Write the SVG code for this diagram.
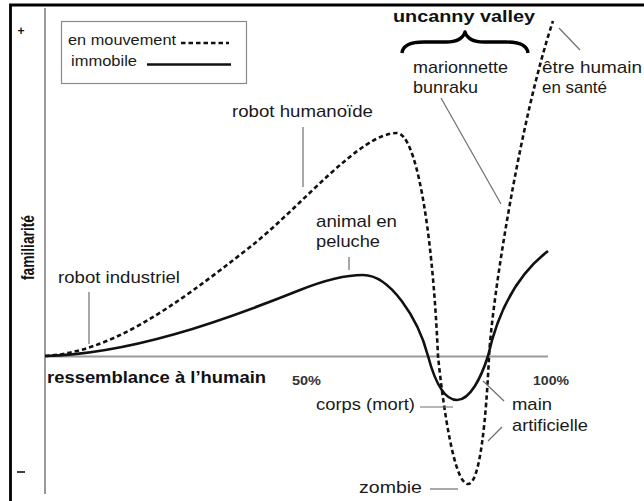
<svg xmlns="http://www.w3.org/2000/svg" width="644" height="501" viewBox="0 0 644 501">
  <style>
    text { font-family: "Liberation Sans", Arial, sans-serif; }
    .lbl { font-size: 17px; fill: #1a1a1a; }
    .bold { font-weight: bold; fill: #111; }
    .pct { font-weight: bold; font-size: 12px; fill: #333; }
    .leg { font-size: 14px; fill: #1a1a1a; }
    .axis { stroke: #9a9a9a; stroke-width: 2; fill: none; }
    .leader { stroke: #6e6e6e; stroke-width: 1.2; fill: none; }
    .moving { stroke: #111; stroke-width: 2.6; fill: none; stroke-dasharray: 4.5 3; }
    .still { stroke: #111; stroke-width: 2.6; fill: none; }
  </style>
  <rect x="0" y="0" width="644" height="501" fill="#ffffff"/>
  <path d="M10.5,501 L10.5,5 L644,5" fill="none" stroke="#000" stroke-width="2.8"/>

  <g id="axes">
    <line class="axis" x1="45" y1="8" x2="45" y2="494"/>
    <line class="axis" x1="45" y1="356.5" x2="548" y2="356.5"/>
    <text class="bold" x="17.5" y="34.5" font-size="12">+</text>
    <line x1="17" y1="472" x2="25" y2="472" stroke="#111" stroke-width="1.6"/>
    <text class="bold" font-size="18" transform="translate(33.5,280) rotate(-90)" textLength="65" lengthAdjust="spacingAndGlyphs">familiarité</text>
    <text class="bold" font-size="16" x="47" y="383" textLength="219" lengthAdjust="spacingAndGlyphs">ressemblance à l’humain</text>
    <text class="pct" x="292" y="385" textLength="29" lengthAdjust="spacingAndGlyphs">50%</text>
    <text class="pct" x="533" y="385" textLength="36" lengthAdjust="spacingAndGlyphs">100%</text>
  </g>

  <g id="legend">
    <rect x="61.5" y="21.5" width="185" height="62" fill="#fff" stroke="#8a8a8a" stroke-width="1.2"/>
    <text class="leg" x="68" y="45" textLength="108" lengthAdjust="spacingAndGlyphs">en mouvement</text>
    <line class="moving" x1="181" y1="43" x2="229" y2="43" stroke-width="2" stroke-dasharray="4 3"/>
    <text class="leg" x="71" y="65.5" textLength="66" lengthAdjust="spacingAndGlyphs">immobile</text>
    <line class="still" x1="147" y1="64.5" x2="231" y2="64.5" stroke-width="2"/>
  </g>

  <g id="curves">
    <path id="curve-moving" class="moving" d="M45,356 C110,352 170,310 250,247 C300,208 360,133 397,133 C415,133 432,220 438,356 C443,405 454,484 468,484 C480,484 486,420 489,357 C492,300 520,120 553,21"/>
    <path id="curve-still" class="still" d="M45,356 C130,354 220,322 300,290 C325,280 345,275 363,275 C390,275 418,318 428,356 C436,386 446,400 457,400 C470,400 481,378 488,356 C495,325 510,280 548,251"/>
  </g>

  <g id="uncanny-valley">
    <text class="bold" font-size="17" x="393" y="22" textLength="142" lengthAdjust="spacingAndGlyphs">uncanny valley</text>
    <path d="M402,53 Q403,42 424,42 L446,42 Q462,42 465,32 Q468,42 484,42 L506,42 Q527,42 528,53" fill="none" stroke="#000" stroke-width="3.4" stroke-linejoin="round"/>
  </g>

  <g id="connectors">
    <line class="leader" x1="89" y1="292" x2="89" y2="344"/>
    <line class="leader" x1="303" y1="127" x2="303" y2="187"/>
    <line class="leader" x1="349" y1="257" x2="349" y2="270"/>
    <line class="leader" x1="441" y1="98" x2="501" y2="204"/>
    <line class="leader" x1="559" y1="28" x2="580" y2="50"/>
    <line class="leader" x1="420" y1="407" x2="453" y2="407"/>
    <line class="leader" x1="483" y1="381" x2="504" y2="401"/>
    <line class="leader" x1="502" y1="427" x2="488" y2="441"/>
    <line class="leader" x1="430" y1="489" x2="458" y2="489"/>
  </g>

  <g id="robot-industriel">
    <text class="lbl" x="58" y="283" textLength="122" lengthAdjust="spacingAndGlyphs">robot industriel</text>
  </g>
  <g id="robot-humanoide">
    <text class="lbl" x="232" y="117" textLength="141" lengthAdjust="spacingAndGlyphs">robot humanoïde</text>
  </g>
  <g id="animal-en-peluche">
    <text class="lbl" x="316" y="226.5" textLength="81" lengthAdjust="spacingAndGlyphs">animal en</text>
    <text class="lbl" x="316" y="246.5" textLength="64" lengthAdjust="spacingAndGlyphs">peluche</text>
  </g>
  <g id="marionnette-bunraku">
    <text class="lbl" x="413" y="72.5" textLength="95" lengthAdjust="spacingAndGlyphs">marionnette</text>
    <text class="lbl" x="413" y="92.5" textLength="65" lengthAdjust="spacingAndGlyphs">bunraku</text>
  </g>
  <g id="etre-humain">
    <text class="lbl" x="542" y="72.5" textLength="100" lengthAdjust="spacingAndGlyphs">être humain</text>
    <text class="lbl" x="542" y="92.5" textLength="65" lengthAdjust="spacingAndGlyphs">en santé</text>
  </g>
  <g id="corps-mort">
    <text class="lbl" x="316" y="409.5" textLength="99" lengthAdjust="spacingAndGlyphs">corps (mort)</text>
  </g>
  <g id="main-artificielle">
    <text class="lbl" x="512" y="410" textLength="40" lengthAdjust="spacingAndGlyphs">main</text>
    <text class="lbl" x="512" y="431" textLength="76" lengthAdjust="spacingAndGlyphs">artificielle</text>
  </g>
  <g id="zombie">
    <text class="lbl" x="359" y="493" textLength="63" lengthAdjust="spacingAndGlyphs">zombie</text>
  </g>
</svg>
